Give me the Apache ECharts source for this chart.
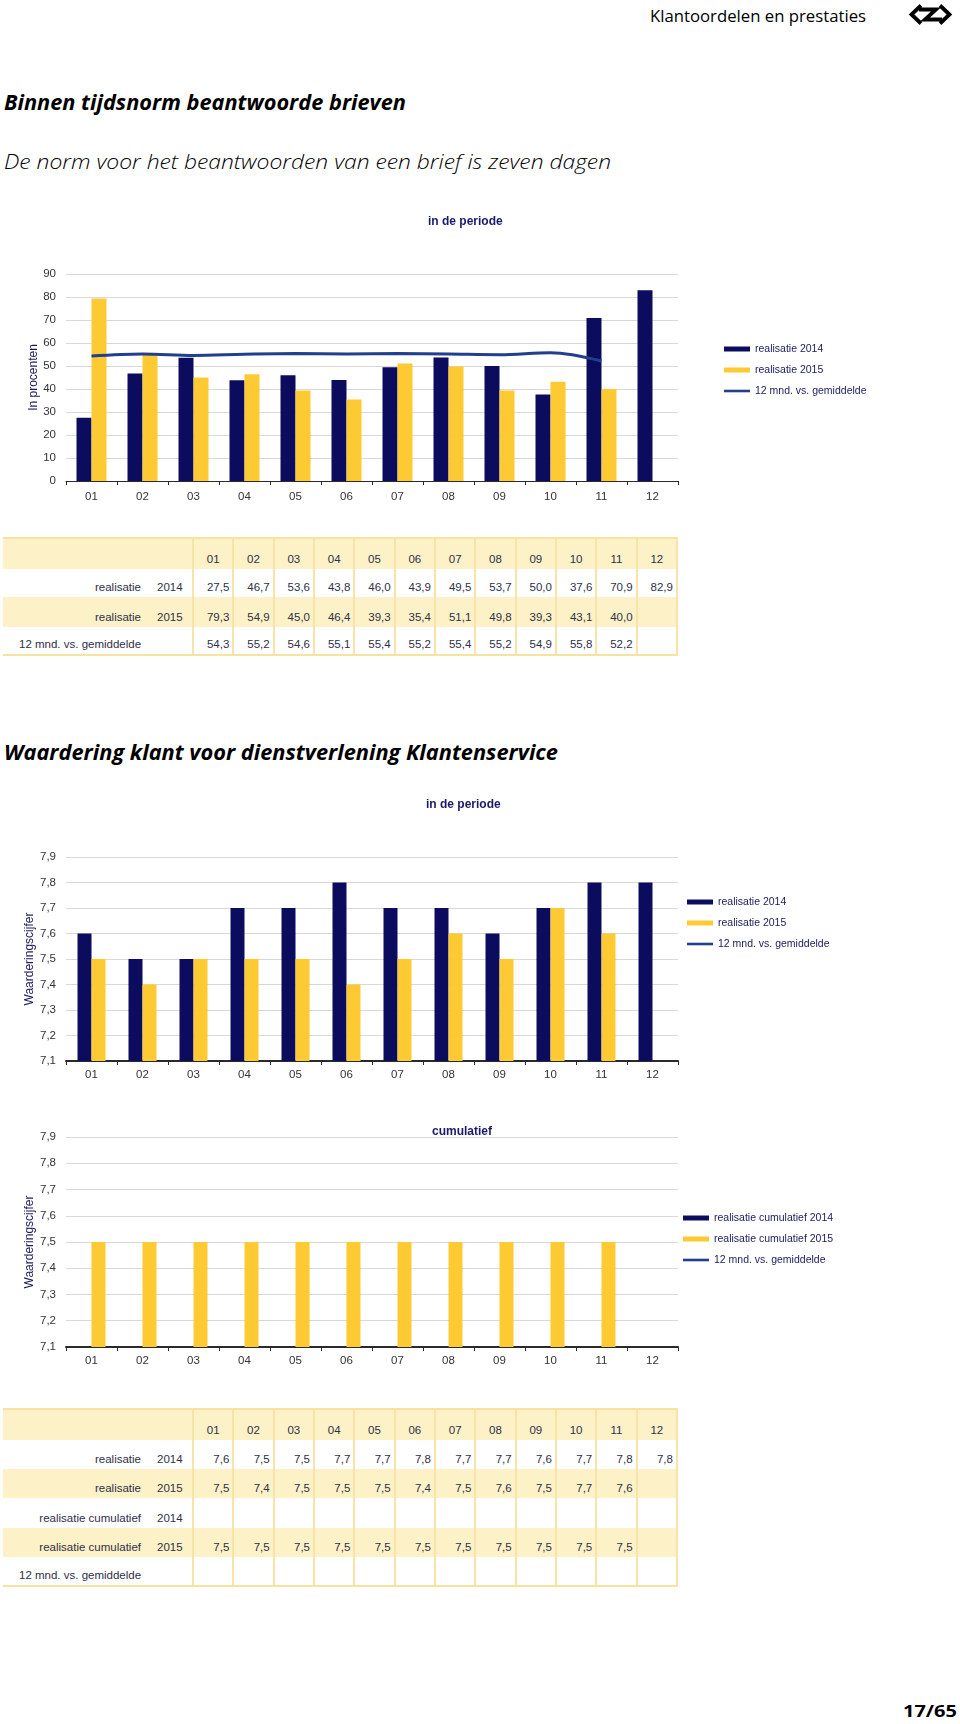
<!DOCTYPE html>
<html>
<head>
<meta charset="utf-8">
<script src="https://cdn.jsdelivr.net/npm/echarts@6/dist/echarts.min.js"></script>
<style>
  html, body { margin: 0; padding: 0; background: #fff; }
  body { position: relative; width: 960px; height: 1724px; overflow: hidden; }
  .txt { position: absolute; white-space: nowrap; line-height: 1; transform-origin: 0 0; }
  .h1 { font-family: "Open Sans", "Noto Sans", sans-serif; font-weight: 700; font-style: italic; font-size: 21px; color: #000; }
  .sub { font-family: "Open Sans", "Noto Sans", sans-serif; font-weight: 300; font-style: italic; font-size: 20px; color: #000; }
  .hdr { font-family: "Open Sans", "Noto Sans", sans-serif; font-weight: 400; font-size: 15.5px; color: #000; }
  .pg { font-family: "Open Sans", "Noto Sans", sans-serif; font-weight: 700; font-size: 16.5px; color: #000; }
  .chart { position: absolute; left: 0; width: 960px; }
  table.dt { position: absolute; left: 3px; border-collapse: collapse; table-layout: fixed;
    font-family: "Liberation Sans", Arial, sans-serif; font-size: 11.5px; color: #2e3047; }
  table.dt td { padding: 0 0 4px 0; vertical-align: bottom; white-space: nowrap; overflow: visible; }
  table.dt tr.y td { background: #fdf1c8; }
  table.dt tr.w td { background: #ffffff; }
  table.dt td.v { border-left: 2px solid #f7e4a6; text-align: right; padding-right: 3px; }
  table.dt td.hv { border-left: 2px solid #f7e4a6; text-align: center; }
  table.dt td.last { border-right: 2px solid #f7e4a6; }
  table.dt td.l1 { text-align: right; padding-right: 7px; }
  table.dt td.l2 { text-align: left; padding-left: 9px; }
  table.dt td.lf { text-align: left; padding-left: 16px; }
  table.dt tr:first-child td { border-top: 2px solid #f7e2a0; }
  table.dt tr:last-child td { border-bottom: 2px solid #f7e2a0; }
</style>
</head>
<body>

<div class="txt hdr" id="hdr" data-right="866" style="top:9px;">Klantoordelen en prestaties</div>
<svg style="position:absolute;left:908px;top:3px;" width="45" height="23" viewBox="0 0 45 23">
  <g fill="none" stroke="#000" stroke-width="3.8" stroke-linejoin="miter">
    <path d="M13,2.5 L3.5,11.5 L13,20.5"/>
    <path d="M32,2.5 L41.5,11.5 L32,20.5"/>
    <path d="M11,6.5 L28,6.5 L17,16.5 L34,16.5"/>
  </g>
</svg>

<div class="txt h1" id="h1" data-w="402" style="left:4px;top:92px;">Binnen tijdsnorm beantwoorde brieven</div>
<div class="txt sub" id="sub" data-w="607" style="left:4px;top:152px;">De norm voor het beantwoorden van een brief is zeven dagen</div>

<div class="chart" id="c1" style="top:200px;height:320px;"></div>
<table class="dt" id="t1" style="top:537px;"></table>

<div class="txt h1" id="h2" data-w="554" style="left:4px;top:742px;">Waardering klant voor dienstverlening Klantenservice</div>

<div class="chart" id="c2" style="top:780px;height:320px;"></div>
<div class="chart" id="c3" style="top:1100px;height:280px;"></div>
<table class="dt" id="t2" style="top:1408px;"></table>

<div class="txt pg" id="pg" data-right="957" style="top:1703px;">17/65</div>

<script>
// ---------- data ----------
const months = ['01','02','03','04','05','06','07','08','09','10','11','12'];

// Binnen tijdsnorm beantwoorde brieven (%)
const brieven2014 = [27.5, 46.7, 53.6, 43.8, 46.0, 43.9, 49.5, 53.7, 50.0, 37.6, 70.9, 82.9];
const brieven2015 = [79.3, 54.9, 45.0, 46.4, 39.3, 35.4, 51.1, 49.8, 39.3, 43.1, 40.0, null];
const brievenGem  = [54.3, 55.2, 54.6, 55.1, 55.4, 55.2, 55.4, 55.2, 54.9, 55.8, 52.2, null];
const pctTicks = [0, 10, 20, 30, 40, 50, 60, 70, 80, 90];

// Waardering klant (cijfer)
const waard2014 = [7.6, 7.5, 7.5, 7.7, 7.7, 7.8, 7.7, 7.7, 7.6, 7.7, 7.8, 7.8];
const waard2015 = [7.5, 7.4, 7.5, 7.5, 7.5, 7.4, 7.5, 7.6, 7.5, 7.7, 7.6, null];
const waardGem  = [];
const cum2014   = [null, null, null, null, null, null, null, null, null, null, null, null];
const cum2015   = [7.5, 7.5, 7.5, 7.5, 7.5, 7.5, 7.5, 7.5, 7.5, 7.5, 7.5, null];
const cijferTicks = [7.1, 7.2, 7.3, 7.4, 7.5, 7.6, 7.7, 7.8, 7.9];

// ---------- styling ----------
const NAVY = '#0c0c5e', YELLOW = '#fdca34', LINE = '#213f8c';
const FONT = '"Liberation Sans", Arial, sans-serif';
const LINE_ICON = 'path://M0,0H30V3H0Z';
const fmt = v => (v === null || v === undefined) ? '' : v.toFixed(1).replace('.', ',');

function tickSpec(t) { return { min: t[0], max: t[t.length - 1], interval: +(t[1] - t[0]).toFixed(6) }; }

function buildChart(id, o) {
  const ch = echarts.init(document.getElementById(id), null, { renderer: 'canvas' });
  const ts = tickSpec(o.ticks);
  ch.setOption({
    animation: false,
    textStyle: { fontFamily: FONT },
    title: { text: o.title, left: o.titleLeft, top: o.titleTop,
      textStyle: { fontSize: 12, fontWeight: 'bold', color: '#1a1a6b', fontFamily: FONT } },
    grid: { left: 66, width: 612, top: o.gridTop, height: o.gridH },
    legend: { orient: 'vertical', left: o.legLeft, top: o.legTop, padding: 0,
      itemWidth: 26, itemHeight: 5, itemGap: 9, symbolKeepAspect: true,
      textStyle: { fontSize: 10.5, color: '#1a1a5e', fontFamily: FONT, lineHeight: 12 },
      data: [ { name: o.names[0], icon: 'rect' }, { name: o.names[1], icon: 'rect' }, { name: o.names[2], icon: LINE_ICON } ] },
    xAxis: { type: 'category', data: months, boundaryGap: true,
      axisLine: { lineStyle: { color: '#2a2a2a', width: o.axisW } },
      axisTick: { show: true, length: 4, lineStyle: { color: '#2a2a2a' } },
      axisLabel: { color: '#333', fontSize: 11.5, margin: o.xMargin, fontFamily: FONT } },
    yAxis: { type: 'value', min: ts.min, max: ts.max, interval: ts.interval,
      axisLine: { show: false }, axisTick: { show: false },
      splitLine: { lineStyle: { color: '#d9d9d9', width: 1 } },
      axisLabel: { color: '#333', fontSize: 11.5, margin: 10, fontFamily: FONT, formatter: o.yfmt },
      name: o.yname, nameLocation: 'middle', nameGap: o.nameGap, nameMoveOverlap: false,
      nameTextStyle: { color: '#1a1a5e', fontSize: 12, fontFamily: FONT } },
    series: [
      { type: 'bar', name: o.names[0], data: o.s1, barWidth: o.barW, barGap: '0%', itemStyle: { color: NAVY } },
      { type: 'bar', name: o.names[1], data: o.s2, barWidth: o.barW, barGap: '0%', itemStyle: { color: YELLOW } },
      { type: 'line', name: o.names[2], data: o.s3, smooth: 0.35, symbol: 'none', showSymbol: false,
        lineStyle: { width: 3, color: LINE }, itemStyle: { color: LINE }, z: 5 }
    ]
  });
}

buildChart('c1', {
  title: 'in de periode', titleLeft: 423, titleTop: 11,
  gridTop: 74, gridH: 207, legLeft: 724, legTop: 143, axisW: 1, xMargin: 10,
  names: ['realisatie 2014', 'realisatie 2015', '12 mnd. vs. gemiddelde'],
  ticks: pctTicks, yfmt: v => String(Math.round(v)), yname: 'In procenten', nameGap: 26,
  s1: brieven2014, s2: brieven2015, s3: brievenGem, barW: 15
});
buildChart('c2', {
  title: 'in de periode', titleLeft: 421, titleTop: 14,
  gridTop: 77, gridH: 204, legLeft: 687, legTop: 116, axisW: 2, xMargin: 8,
  names: ['realisatie 2014', 'realisatie 2015', '12 mnd. vs. gemiddelde'],
  ticks: cijferTicks, yfmt: v => fmt(v), yname: 'Waarderingscijfer', nameGap: 30,
  s1: waard2014, s2: waard2015, s3: waardGem, barW: 14
});
buildChart('c3', {
  title: 'cumulatief', titleLeft: 427, titleTop: 21,
  gridTop: 37, gridH: 210, legLeft: 683, legTop: 112, axisW: 2, xMargin: 8,
  names: ['realisatie cumulatief 2014', 'realisatie cumulatief 2015', '12 mnd. vs. gemiddelde'],
  ticks: cijferTicks, yfmt: v => fmt(v), yname: 'Waarderingscijfer', nameGap: 30,
  s1: cum2014, s2: cum2015, s3: waardGem, barW: 14
});

// ---------- tables ----------
function buildTable(id, rows, heights) {
  const t = document.getElementById(id);
  let html = '<colgroup><col style="width:145px"><col style="width:45px">';
  for (let i = 0; i < 12; i++) html += '<col style="width:40.33px">';
  html += '</colgroup>';
  html += '<tr class="y" style="height:' + heights[0] + 'px"><td></td><td></td>';
  months.forEach((m, i) => { html += '<td class="hv' + (i === 11 ? ' last' : '') + '">' + m + '</td>'; });
  html += '</tr>';
  rows.forEach((r, ri) => {
    html += '<tr class="' + (ri % 2 === 0 ? 'w' : 'y') + '" style="height:' + heights[ri + 1] + 'px">';
    if (r.year) html += '<td class="l1">' + r.label + '</td><td class="l2">' + r.year + '</td>';
    else html += '<td class="lf" colspan="2">' + r.label + '</td>';
    for (let i = 0; i < 12; i++) html += '<td class="v' + (i === 11 ? ' last' : '') + '">' + fmt(r.vals[i]) + '</td>';
    html += '</tr>';
  });
  t.innerHTML = html;
}

buildTable('t1', [
  { label: 'realisatie', year: '2014', vals: brieven2014 },
  { label: 'realisatie', year: '2015', vals: brieven2015 },
  { label: '12 mnd. vs. gemiddelde', year: '', vals: brievenGem }
], [31, 28, 30, 28]);

buildTable('t2', [
  { label: 'realisatie', year: '2014', vals: waard2014 },
  { label: 'realisatie', year: '2015', vals: waard2015 },
  { label: 'realisatie cumulatief', year: '2014', vals: cum2014 },
  { label: 'realisatie cumulatief', year: '2015', vals: cum2015 },
  { label: '12 mnd. vs. gemiddelde', year: '', vals: [] }
], [31, 29, 29, 30, 29, 29]);

// ---------- fit heading widths ----------
function fitTexts() {
  document.querySelectorAll('.txt').forEach(el => {
    el.style.transform = 'none';
    const w = el.getBoundingClientRect().width;
    if (el.dataset.w) {
      el.style.transform = 'scaleX(' + (parseFloat(el.dataset.w) / w) + ')';
    } else if (el.dataset.right) {
      const target = { hdr: 216, pg: 54 }[el.id];
      const s = target / w;
      el.style.left = (parseFloat(el.dataset.right) - target) + 'px';
      el.style.transform = 'scaleX(' + s + ')';
    }
  });
}
fitTexts();
if (document.fonts && document.fonts.ready) document.fonts.ready.then(fitTexts);
</script>
</body>
</html>
